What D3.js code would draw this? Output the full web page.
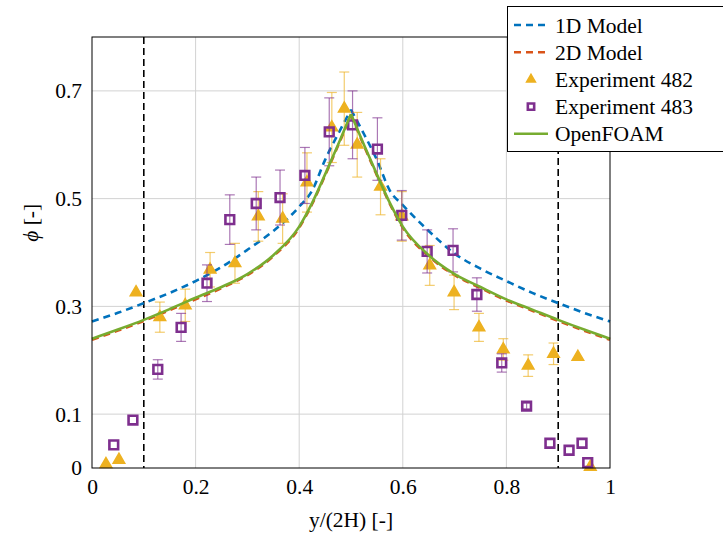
<!DOCTYPE html>
<meta charset="utf-8">
<script src="https://d3js.org/d3.v7.min.js"></script>
<style>
  body { margin: 0; background: #fff; }
  text { font-family: "Liberation Serif", "Times New Roman", serif; }
</style>
<div id="chart"></div>
<script>

// model curves
var modelX   = [0, 0.05, 0.1, 0.15, 0.2, 0.25, 0.3, 0.35, 0.4, 0.425, 0.45, 0.475, 0.5,
                0.525, 0.55, 0.575, 0.6, 0.65, 0.7, 0.75, 0.8, 0.85, 0.9, 0.95, 1];
var model1D  = [0.272, 0.288, 0.306, 0.325, 0.347, 0.373, 0.405, 0.440, 0.485, 0.515, 0.572, 0.620, 0.665,
                0.620, 0.572, 0.515, 0.488, 0.440, 0.398, 0.370, 0.347, 0.325, 0.306, 0.288, 0.272];
var model2D  = [0.238, 0.255, 0.273, 0.293, 0.313, 0.334, 0.358, 0.393, 0.446, 0.490, 0.543, 0.598, 0.655,
                0.598, 0.543, 0.490, 0.446, 0.393, 0.358, 0.334, 0.311, 0.292, 0.273, 0.255, 0.238];
var openfoam = [0.240, 0.257, 0.275, 0.295, 0.316, 0.336, 0.360, 0.395, 0.448, 0.492, 0.545, 0.600, 0.657,
                0.600, 0.545, 0.492, 0.448, 0.395, 0.360, 0.336, 0.313, 0.294, 0.275, 0.257, 0.240];

// experiment 482: x, phi, error
var exp482X   = [0.027, 0.052, 0.085, 0.131, 0.180, 0.228, 0.276, 0.321, 0.368, 0.415, 0.463, 0.487, 0.512,
                 0.557, 0.598, 0.652, 0.699, 0.747, 0.794, 0.842, 0.891, 0.938, 0.962];
var exp482Y   = [0.007, 0.015, 0.326, 0.280, 0.302, 0.368, 0.380, 0.467, 0.463, 0.530, 0.632, 0.667, 0.600,
                 0.522, 0.467, 0.376, 0.326, 0.261, 0.220, 0.190, 0.212, 0.206, 0.002];
var exp482Err = [0, 0, 0, 0.028, 0.030, 0.032, 0.037, 0.046, 0.046, 0.055, 0.065, 0.068, 0.060,
                 0.052, 0.046, 0.037, 0.032, 0.026, 0.020, 0.020, 0.020, 0, 0];

// experiment 483
var exp483X   = [0.042, 0.079, 0.127, 0.172, 0.222, 0.266, 0.317, 0.363, 0.411, 0.458, 0.503, 0.551,
                 0.598, 0.647, 0.697, 0.743, 0.791, 0.839, 0.884, 0.921, 0.946, 0.957];
var exp483Y   = [0.043, 0.089, 0.183, 0.261, 0.343, 0.461, 0.491, 0.502, 0.543, 0.624, 0.637, 0.592,
                 0.469, 0.402, 0.404, 0.322, 0.195, 0.115, 0.046, 0.033, 0.046, 0.010];
var exp483Err = [0, 0, 0.018, 0.026, 0.034, 0.046, 0.049, 0.051, 0.052, 0.063, 0.063, 0.058,
                 0.046, 0.040, 0.040, 0.031, 0.017, 0.005, 0, 0, 0, 0];

var bounds  = [0.1, 0.9];
var xTicks  = [0, 0.2, 0.4, 0.6, 0.8, 1];
var yTicks  = [0, 0.1, 0.3, 0.5, 0.7];
var yGrid   = [0.1, 0.3, 0.5, 0.7];
var xGrid   = [0.2, 0.4, 0.6, 0.8];
var legendNames = ["1D Model", "2D Model", "Experiment 482", "Experiment 483", "OpenFOAM"];

(function() {
var W = 723, H = 535,
  pLeft = 92, pRight = 610, pTop = 37, pBottom = 468,
  fs = 21.5,
  cBlue = "#0072BD", cOrange = "#D95319", cYellow = "#EDB120",
  cPurple = "#7E2F8E", cGreen = "#77AC30";

var svg = d3.select("#chart").append("svg")
  .attr("width", W).attr("height", H);

var x = d3.scaleLinear().domain([0, 1]).range([pLeft, pRight]);
var y = d3.scaleLinear().domain([0, 0.8]).range([pBottom, pTop]);

// grid
svg.append("g").selectAll("line").data(yGrid).enter().append("line")
  .attr("x1", pLeft).attr("x2", pRight)
  .attr("y1", function(d){ return y(d) }).attr("y2", function(d){ return y(d) })
  .attr("stroke", "#d2d2d2").attr("stroke-width", 1);
svg.append("g").selectAll("line").data(xGrid).enter().append("line")
  .attr("y1", pTop).attr("y2", pBottom)
  .attr("x1", function(d){ return x(d) }).attr("x2", function(d){ return x(d) })
  .attr("stroke", "#d2d2d2").attr("stroke-width", 1);

// axes
var xAxis = svg.append("g").attr("transform", "translate(0," + pBottom + ")")
  .call(d3.axisBottom(x).tickValues(xTicks).tickSize(0).tickPadding(9)
    .tickFormat(function(d){ return d === 0 || d === 1 ? d : d3.format(".1f")(d) }));
var yAxis = svg.append("g").attr("transform", "translate(" + pLeft + ",0)")
  .call(d3.axisLeft(y).tickValues(yTicks).tickSize(0).tickPadding(10)
    .tickFormat(function(d){ return d === 0 ? "0" : d3.format(".1f")(d) }));
[xAxis, yAxis].forEach(function(a){
  a.select(".domain").remove();
  a.selectAll("text").attr("font-size", fs).attr("fill", "#000")
    .style("font-family", "'Liberation Serif', serif");
});
xAxis.selectAll("text").attr("dy", "0.8em");

svg.append("text").attr("x", (pLeft + pRight) / 2).attr("y", 527)
  .attr("text-anchor", "middle").attr("font-size", fs).text("y/(2H) [-]");
svg.append("text")
  .attr("transform", "translate(38," + (y(0.455)) + ") rotate(-90)")
  .attr("text-anchor", "middle").attr("font-size", fs)
  .html('<tspan font-style="italic">ϕ</tspan> [-]');

// bound lines
svg.append("g").selectAll("line").data(bounds).enter().append("line")
  .attr("x1", function(d){ return x(d) }).attr("x2", function(d){ return x(d) })
  .attr("y1", pTop).attr("y2", pBottom)
  .attr("stroke", "#000").attr("stroke-width", 1.6).attr("stroke-dasharray", "7,4");

// each curve is smooth on both halves, with a cusp at the centre
var mid = modelX.indexOf(0.5);
function curve(vals) {
  var line = d3.line().curve(d3.curveMonotoneX)
    .x(function(d){ return x(d[0]) }).y(function(d){ return y(d[1]) });
  var pts = modelX.map(function(d, i){ return [d, vals[i]] });
  return line(pts.slice(0, mid + 1)) + line(pts.slice(mid));
}

svg.append("path").attr("d", curve(model1D)).attr("fill", "none")
  .attr("stroke", cBlue).attr("stroke-width", 2.6).attr("stroke-dasharray", "7,5");
svg.append("path").attr("d", curve(model2D)).attr("fill", "none")
  .attr("stroke", cOrange).attr("stroke-width", 2.6).attr("stroke-dasharray", "7,5");

function errorBars(xs, ys, es, color) {
  var g = svg.append("g").attr("stroke", color).attr("stroke-opacity", 0.65).attr("stroke-width", 1.2);
  xs.forEach(function(d, i){
    if (!es[i]) return;
    var cx = x(d), y0 = y(ys[i] - es[i]), y1 = y(ys[i] + es[i]);
    g.append("line").attr("x1", cx).attr("x2", cx).attr("y1", y0).attr("y2", y1);
    g.append("line").attr("x1", cx - 5).attr("x2", cx + 5).attr("y1", y0).attr("y2", y0);
    g.append("line").attr("x1", cx - 5).attr("x2", cx + 5).attr("y1", y1).attr("y2", y1);
  });
}

errorBars(exp482X, exp482Y, exp482Err, cYellow);
svg.append("g").selectAll("path").data(exp482X).enter().append("path")
  .attr("d", d3.symbol(d3.symbolTriangle, 58))
  .attr("transform", function(d, i){ return "translate(" + x(d) + "," + y(exp482Y[i]) + ")" })
  .attr("fill", cYellow).attr("stroke", cYellow).attr("stroke-width", 1.5);

errorBars(exp483X, exp483Y, exp483Err, cPurple);
svg.append("g").selectAll("path").data(exp483X).enter().append("path")
  .attr("d", d3.symbol(d3.symbolSquare, 76))
  .attr("transform", function(d, i){ return "translate(" + x(d) + "," + y(exp483Y[i]) + ")" })
  .attr("fill", "none").attr("stroke", cPurple).attr("stroke-width", 2.6);

svg.append("path").attr("d", curve(openfoam)).attr("fill", "none")
  .attr("stroke", cGreen).attr("stroke-width", 2.6);

// frame
svg.append("rect").attr("x", pLeft).attr("y", pTop)
  .attr("width", pRight - pLeft).attr("height", pBottom - pTop)
  .attr("fill", "none").attr("stroke", "#000").attr("stroke-width", 1);

// legend
var lg = svg.append("g");
lg.append("rect").attr("x", 507.5).attr("y", 6.5).attr("width", 240).attr("height", 145)
  .attr("fill", "#fff").attr("stroke", "#000").attr("stroke-width", 1);
legendNames.forEach(function(name, i){
  var ly = 25 + i * 27.2;
  if (i < 2) {
    lg.append("line").attr("x1", 514).attr("x2", 548).attr("y1", ly).attr("y2", ly)
      .attr("stroke", i === 0 ? cBlue : cOrange).attr("stroke-width", 2.6).attr("stroke-dasharray", "7,5");
  } else if (i === 2) {
    lg.append("path").attr("d", d3.symbol(d3.symbolTriangle, 34))
      .attr("transform", "translate(531," + ly + ")").attr("fill", cYellow)
      .attr("stroke", cYellow).attr("stroke-width", 1.5);
  } else if (i === 3) {
    lg.append("path").attr("d", d3.symbol(d3.symbolSquare, 40))
      .attr("transform", "translate(531," + ly + ")").attr("fill", "none")
      .attr("stroke", cPurple).attr("stroke-width", 2.6);
  } else {
    lg.append("line").attr("x1", 514).attr("x2", 548).attr("y1", ly).attr("y2", ly)
      .attr("stroke", cGreen).attr("stroke-width", 2.6);
  }
  lg.append("text").attr("x", 555).attr("y", ly).attr("dy", "0.35em")
    .attr("font-size", fs).text(name);
});
})();

</script>
